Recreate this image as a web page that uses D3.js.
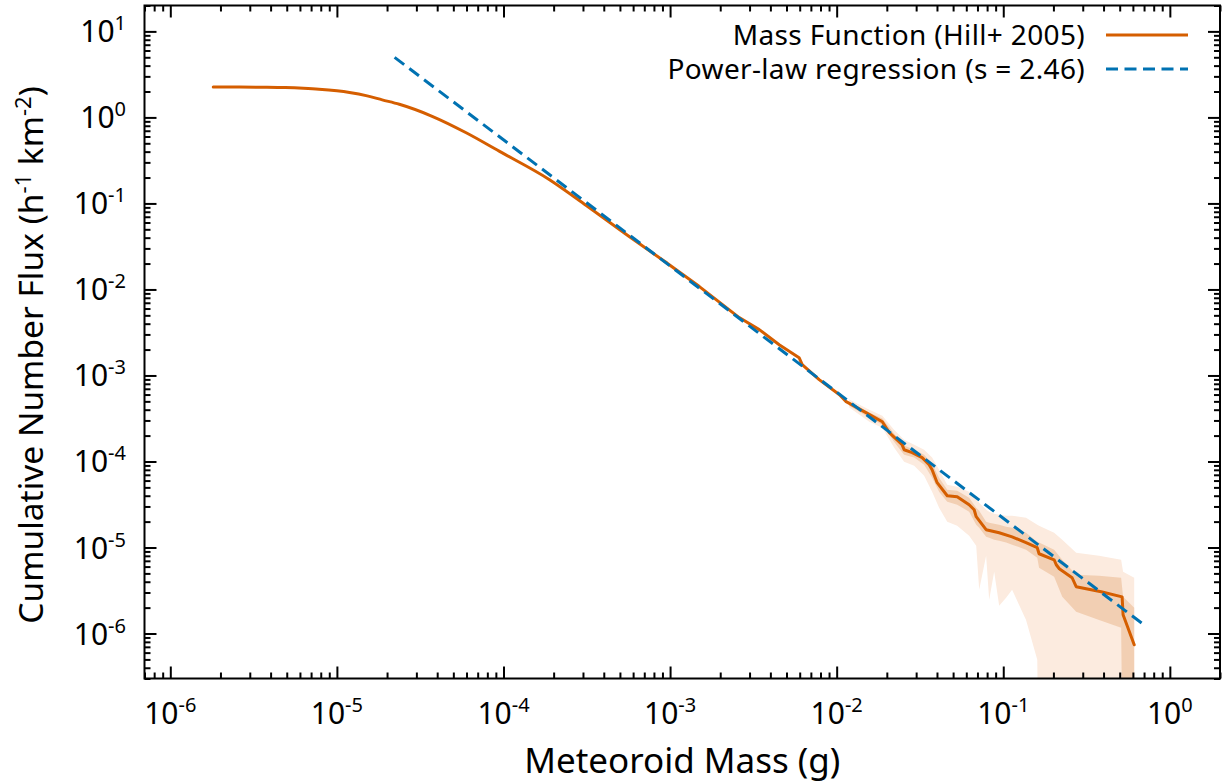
<!DOCTYPE html>
<html><head><meta charset="utf-8">
<script src="https://cdn.jsdelivr.net/npm/d3@7"></script>
<style>body{margin:0;background:#fff}svg{display:block}</style>
</head><body>
<svg id="chart" width="1224" height="781"></svg>
<script>
// ---- data ----
// smooth part of the mass function (drawn with a smooth curve)
const smoothMass = [1.81e-6, 2.6e-6, 3.6e-6, 4.9e-6, 6.3e-6, 7.8e-6, 1.0e-5, 1.19e-5, 1.52e-5, 1.87e-5, 2.37e-5, 3.73e-5, 5.97e-5, 9.42e-5, 1.88e-4, 3.14e-4, 5.68e-4, 9.47e-4];
const smoothFlux = [2.25, 2.25, 2.24, 2.22, 2.18, 2.13, 2.04, 1.95, 1.78, 1.60, 1.42, 1.03, 0.663, 0.405, 0.190, 0.0946, 0.0412, 0.0206];
// noisy tail of the mass function (straight segments)
const tailMass = [9.47e-4, 1.50e-3, 2.60e-3, 3.43e-3, 4.52e-3, 5.95e-3, 6.21e-3, 7.85e-3, 1.04e-2, 1.14e-2, 1.50e-2, 1.88e-2, 2.07e-2, 2.47e-2, 2.54e-2, 2.84e-2, 3.26e-2, 3.59e-2, 3.74e-2, 4.01e-2, 4.61e-2, 5.29e-2, 6.24e-2, 6.69e-2, 6.88e-2, 7.89e-2, 9.45e-2, 0.113, 0.137, 0.160, 0.164, 0.202, 0.208, 0.217, 0.259, 0.274, 0.387, 0.517, 0.524, 0.611];
const tailFlux = [0.0206, 0.0108, 4.71e-3, 3.41e-3, 2.28e-3, 1.61e-3, 1.34e-3, 8.94e-4, 5.98e-4, 4.96e-4, 3.70e-4, 2.90e-4, 2.16e-4, 1.57e-4, 1.37e-4, 1.27e-4, 1.11e-4, 9.18e-5, 8.03e-5, 5.67e-5, 4.00e-5, 3.90e-5, 3.14e-5, 2.75e-5, 2.28e-5, 1.61e-5, 1.485e-5, 1.33e-5, 1.14e-5, 9.94e-6, 8.46e-6, 7.20e-6, 6.30e-6, 5.66e-6, 4.45e-6, 3.50e-6, 3.06e-6, 2.67e-6, 1.65e-6, 7.39e-7];

const regMass = [2.22e-5, 0.70];
const regFlux = [4.99, 1.26e-6];

const bandMass = [0.0119, 0.0157, 0.0188, 0.0221, 0.0254, 0.0292, 0.0335, 0.0374, 0.0412, 0.0461, 0.0529, 0.0624, 0.0688, 0.0717, 0.0789, 0.0823, 0.0882, 0.0945, 0.104, 0.113, 0.137, 0.160, 0.164, 0.202, 0.226, 0.274, 0.376, 0.510, 0.524, 0.611];
const outerHi = [5.24e-4, 4.00e-4, 3.41e-4, 2.34e-4, 1.79e-4, 1.57e-4, 1.37e-4, 1.11e-4, 8.03e-5, 5.37e-5, 5.09e-5, 4.45e-5, 3.59e-5, 3.32e-5, 2.75e-5, 2.61e-5, 2.47e-5, 2.40e-5, 2.34e-5, 2.34e-5, 2.22e-5, 1.84e-5, 1.79e-5, 1.48e-5, 1.23e-5, 8.69e-6, 8.02e-6, 7.20e-6, 5.22e-6, 4.45e-6];
const outerLo = [4.23e-4, 2.90e-4, 2.47e-4, 1.45e-4, 9.95e-5, 8.94e-5, 6.84e-5, 4.45e-5, 2.90e-5, 1.99e-5, 1.79e-5, 1.37e-5, 1.05e-5, 3.23e-6, 8.02e-6, 2.47e-6, 5.22e-6, 2.10e-6, 2.60e-6, 3.23e-6, 1.44e-6, 4.95e-7, 1e-8, 1e-8, 1e-8, 1e-8, 1e-8, 1e-8, 1e-8, 1e-8];
const innerHi = [4.96e-4, 3.70e-4, 3.15e-4, 2.11e-4, 1.53e-4, 1.37e-4, 1.20e-4, 9.43e-5, 6.48e-5, 4.70e-5, 4.57e-5, 3.79e-5, 2.90e-5, 2.68e-5, 1.99e-5, 1.94e-5, 1.89e-5, 1.84e-5, 1.74e-5, 1.70e-5, 1.48e-5, 1.17e-5, 1.14e-5, 9.42e-6, 7.20e-6, 4.82e-6, 4.69e-6, 4.45e-6, 2.67e-6, 1.99e-6];
const innerLo = [4.46e-4, 3.23e-4, 2.68e-4, 1.70e-4, 1.20e-4, 1.11e-4, 9.18e-5, 6.48e-5, 4.45e-5, 3.41e-5, 3.14e-5, 2.61e-5, 1.84e-5, 1.70e-5, 1.33e-5, 1.30e-5, 1.23e-5, 1.20e-5, 1.14e-5, 1.08e-5, 9.42e-6, 7.60e-6, 5.82e-6, 4.57e-6, 2.67e-6, 1.79e-6, 1.44e-6, 1.17e-6, 1e-8, 1e-8];

const xTickExps = [-6, -5, -4, -3, -2, -1, 0];
const yTickExps = [-6, -5, -4, -3, -2, -1, 0, 1];
const xDomain = [7e-7, 2];
const yDomain = [3e-7, 20];
const legendLabels = ["Mass Function (Hill+ 2005)", "Power-law regression (s = 2.46)"];
const xTitle = "Meteoroid Mass (g)";
const yTitleParts = ["Cumulative Number Flux (h", "-1", " km", "-2", ")"];

// ---- layout ----
const FONT = "'Noto Sans', 'Open Sans', sans-serif";
const M = {l: 144.5, r: 1220, t: 5.5, b: 678.5};
const ORANGE = "#d55e00", BLUE = "#0072b2";

const svg = d3.select("#chart").style("font-family", FONT);
const x = d3.scaleLog().domain(xDomain).range([M.l, M.r]);
const y = d3.scaleLog().domain(yDomain).range([M.b, M.t]);

svg.append("defs").append("clipPath").attr("id", "clip")
  .append("rect").attr("x", M.l).attr("y", M.t).attr("width", M.r - M.l).attr("height", M.b - M.t);

const plot = svg.append("g").attr("clip-path", "url(#clip)");

const idx = d3.range(bandMass.length);
const area = (lo, hi) => d3.area()
  .x(i => x(bandMass[i])).y0(i => y(lo[i])).y1(i => y(hi[i]));
plot.append("path").datum(idx).attr("d", area(outerLo, outerHi)).attr("fill", "#fcebdf");
plot.append("path").datum(idx).attr("d", area(innerLo, innerHi)).attr("fill", "#f2cfb3");

const lineStyle = p => p.attr("fill", "none").attr("stroke", ORANGE).attr("stroke-width", 3)
  .attr("stroke-linejoin", "round").attr("stroke-linecap", "round");
plot.append("path").datum(d3.range(smoothMass.length))
  .attr("d", d3.line().x(i => x(smoothMass[i])).y(i => y(smoothFlux[i])).curve(d3.curveMonotoneX))
  .call(lineStyle);
plot.append("path").datum(d3.range(tailMass.length))
  .attr("d", d3.line().x(i => x(tailMass[i])).y(i => y(tailFlux[i])))
  .call(lineStyle);

plot.append("path").datum(d3.range(regMass.length))
  .attr("d", d3.line().x(i => x(regMass[i])).y(i => y(regFlux[i])))
  .attr("fill", "none").attr("stroke", BLUE).attr("stroke-width", 3).attr("stroke-dasharray", "12,6.5");

// ---- axes (ticks inward on all four sides) ----
const majors = e => e.map(k => Math.pow(10, k));
function minors(dom) {
  const out = [];
  for (let k = -8; k <= 2; k++) for (let j = 2; j <= 9; j++) {
    const v = j * Math.pow(10, k);
    if (v >= dom[0] * 0.999 && v <= dom[1] * 1.001) out.push(v);
  }
  return out;
}
function styleAxis(g) {
  g.select(".domain").remove();
  g.selectAll("line").attr("stroke", "#000").attr("stroke-width", 2);
  g.selectAll("text").remove();
}
const axes = [
  [d3.axisBottom(x), `translate(0,${M.b})`, xTickExps, xDomain],
  [d3.axisTop(x), `translate(0,${M.t})`, xTickExps, xDomain],
  [d3.axisLeft(y), `translate(${M.l},0)`, yTickExps, yDomain],
  [d3.axisRight(y), `translate(${M.r},0)`, yTickExps, yDomain]
];
axes.forEach(([ax, tr, exps, dom]) => {
  svg.append("g").attr("transform", tr)
    .call(ax.tickValues(majors(exps)).tickSize(-12).tickFormat(""))
    .call(styleAxis);
  svg.append("g").attr("transform", tr)
    .call(ax.tickValues(minors(dom)).tickSize(-6).tickFormat(""))
    .call(styleAxis);
});

svg.append("rect").attr("x", M.l).attr("y", M.t).attr("width", M.r - M.l).attr("height", M.b - M.t)
  .attr("fill", "none").attr("stroke", "#000").attr("stroke-width", 2);

// ---- tick labels ----
const TICK_FS = 30, SUP_FS = 20;
function powLabel(sel) {
  sel.append("tspan").text("10");
  sel.append("tspan").attr("dy", -12).attr("font-size", SUP_FS).text(d => d);
}
svg.append("g").selectAll("text").data(xTickExps).join("text")
  .attr("x", d => x(Math.pow(10, d))).attr("y", 724)
  .attr("text-anchor", "middle").attr("font-size", TICK_FS).call(powLabel);
svg.append("g").selectAll("text").data(yTickExps).join("text")
  .attr("x", 126).attr("y", d => y(Math.pow(10, d)) + 11)
  .attr("text-anchor", "end").attr("font-size", TICK_FS).call(powLabel);

// ---- axis titles ----
svg.append("text").attr("x", (M.l + M.r) / 2).attr("y", 773).attr("text-anchor", "middle")
  .attr("font-size", 35).text(xTitle);
const yt = svg.append("text").attr("transform", "translate(43,355) rotate(-90)")
  .attr("text-anchor", "middle").attr("font-size", 33.5);
yTitleParts.forEach((p, i) => {
  const t = yt.append("tspan").text(p);
  if (i === 1 || i === 3) t.attr("dy", -12).attr("font-size", 22);
  if (i === 2 || i === 4) t.attr("dy", 12);
});

// ---- legend ----
const legY = [35, 69];
const leg = svg.append("g");
legendLabels.forEach((lab, i) => {
  leg.append("text").attr("x", 1085).attr("y", legY[i] + 10).attr("text-anchor", "end")
    .attr("font-size", 28).attr("letter-spacing", 0.35).text(lab);
  leg.append("line").attr("x1", 1106).attr("x2", 1188).attr("y1", legY[i]).attr("y2", legY[i])
    .attr("stroke", i === 0 ? ORANGE : BLUE).attr("stroke-width", 3)
    .attr("stroke-dasharray", i === 0 ? null : "12,6.5");
});
</script>
</body></html>
